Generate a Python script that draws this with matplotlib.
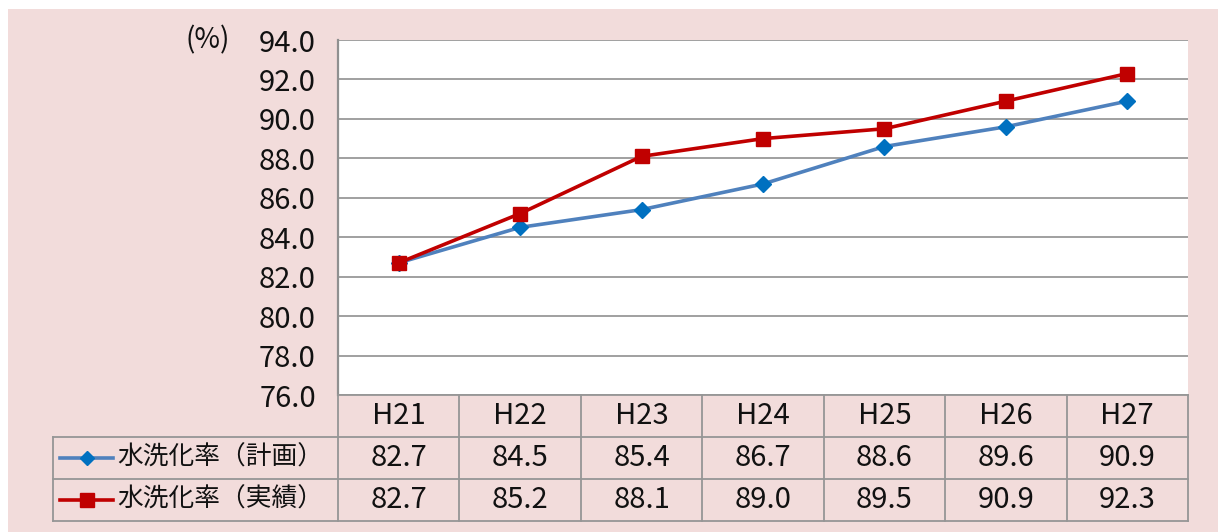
import matplotlib.pyplot as plt

plt.rcParams['font.family'] = ['Noto Sans CJK JP', 'DejaVu Sans']

# Data
years = ["H21", "H22", "H23", "H24", "H25", "H26", "H27"]
plan = [82.7, 84.5, 85.4, 86.7, 88.6, 89.6, 90.9]
actual = [82.7, 85.2, 88.1, 89.0, 89.5, 90.9, 92.3]
series_names = ["水洗化率（計画）", "水洗化率（実績）"]

bg = "#F2DCDB"
grid_c = "#A0A0A0"
blue_line, blue_mark = "#4F81BD", "#0070C0"
red = "#C00000"
txt_c = "#111111"
num_fs = 21

W, H = 1218, 532
fig = plt.figure(figsize=(W / 100, H / 100), dpi=100)
fig.patch.set_facecolor("white")
# pink panel behind everything
fig.patches.append(plt.Rectangle((8 / W, 0), 1, (H - 9) / H, transform=fig.transFigure,
                                 facecolor=bg, edgecolor="none", zorder=-10))

# plot area in pixels
left, right, top, bottom = 338, 1188, 40, 395
ax = fig.add_axes([left / W, (H - bottom) / H, (right - left) / W, (bottom - top) / H])
ax.set_facecolor("white")

x = list(range(len(years)))
ax.plot(x, plan, color=blue_line, lw=2.6, marker="D", ms=8,
        mfc=blue_mark, mec=blue_mark, zorder=3)
ax.plot(x, actual, color=red, lw=2.6, marker="s", ms=10,
        mfc=red, mec=red, zorder=4)

ax.set_xlim(-0.5, len(years) - 0.5)
ax.set_ylim(76, 94)
ax.set_yticks([76 + 2 * i for i in range(10)])
ax.set_yticklabels([f"{76 + 2 * i:.1f}" for i in range(10)], fontsize=num_fs, color=txt_c)
ax.set_xticks([])
ax.tick_params(axis="y", length=0, pad=16)
ax.grid(axis="y", color=grid_c, lw=1.4)
for s in ["top", "right", "bottom"]:
    ax.spines[s].set_visible(False)
ax.spines["left"].set_color("#909090")
ax.spines["left"].set_linewidth(1.6)
ax.text(-0.127, 1.0, "(%)", transform=ax.transAxes, fontsize=20, ha="right", va="center",
        color=txt_c)

# data table below the plot
col_w = (right - left) / len(years)
tab_left, tab_bottom = 53, 521
leg_w = (left - tab_left) / col_w
tax = fig.add_axes([tab_left / W, (H - tab_bottom) / H, (right - tab_left) / W,
                    (tab_bottom - bottom) / H])
tax.set_xlim(-0.5 - leg_w, len(years) - 0.5)
tax.set_ylim(0, 3)
tax.axis("off")
tax.patch.set_alpha(0)

lc = "#969696"
lw = 1.3
x0 = -0.5 - leg_w
x1 = len(years) - 0.5
tax.plot([-0.5, x1], [3, 3], color=lc, lw=lw, clip_on=False)
for yy in [2, 1, 0]:
    tax.plot([x0, x1], [yy, yy], color=lc, lw=lw, clip_on=False)
tax.plot([x0, x0], [0, 2], color=lc, lw=lw, clip_on=False)
for i in range(len(years) + 1):
    tax.plot([i - 0.5, i - 0.5], [0, 3], color=lc, lw=lw, clip_on=False)

for i, yr in enumerate(years):
    tax.text(i, 2.5, yr, ha="center", va="center", fontsize=num_fs, color=txt_c)
    tax.text(i, 1.5, f"{plan[i]:.1f}", ha="center", va="center", fontsize=num_fs, color=txt_c)
    tax.text(i, 0.5, f"{actual[i]:.1f}", ha="center", va="center", fontsize=num_fs, color=txt_c)

# legend keys inside the table
px = lambda p: x0 + (p - tab_left) / col_w
keys = [(1.5, blue_line, blue_mark, "D", 7), (0.5, red, red, "s", 10)]
for (yy, c, mc, m, ms), name in zip(keys, series_names):
    tax.plot([px(60), px(113)], [yy, yy], color=c, lw=2.6, clip_on=False)
    tax.plot([px(87)], [yy], marker=m, ms=ms, color=mc, clip_on=False)
    tax.text(px(117), yy, name, ha="left", va="center", fontsize=18.5, color=txt_c)

fig.savefig("out.png", dpi=100)
